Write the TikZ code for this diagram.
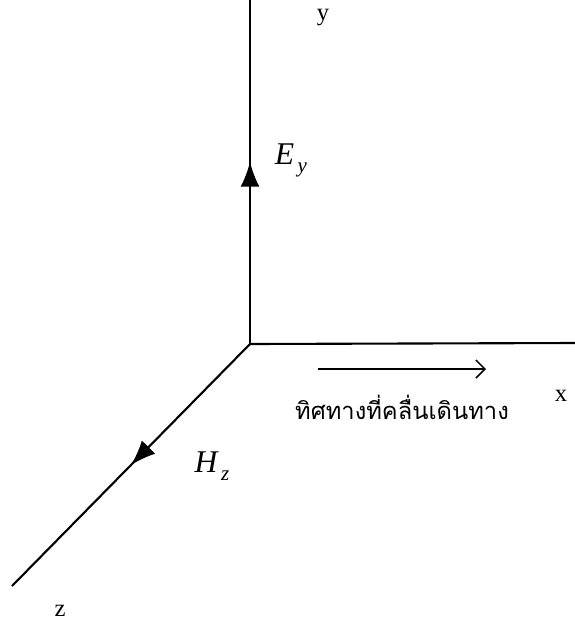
\documentclass[tikz,border=0pt]{standalone}
\usepackage{fontspec}
\setmainfont{Liberation Serif}
\newfontfamily\thaifont[Script=Thai]{Loma}
\usetikzlibrary{arrows.meta,decorations.markings}
\tikzset{
  axis/.style={line width=1.2pt},
  midarrow/.style={postaction={decorate},
    decoration={markings,mark=at position #1 with {\arrow{Latex[length=5mm,width=3.8mm]}}}},
  lbl/.style={font=\fontsize{14}{16}\selectfont, inner sep=0pt},
  field/.style={font=\fontsize{18}{20}\selectfont\itshape, inner sep=0pt}
}
\newcommand{\fieldsub}[2]{#1\kern2pt\raisebox{-0.55ex}{\fontsize{12}{14}\selectfont #2}}
\begin{document}
\begin{tikzpicture}[x=0.02cm,y=-0.02cm]
  \useasboundingbox (0,0) rectangle (575,627);
  \coordinate (O) at (250,344);
  \coordinate (ytop) at (250,0);
  \coordinate (xend) at (575,343);
  \coordinate (zend) at (12,586);
  % Axes
  \draw[axis, midarrow=0.53] (O) -- (ytop);
  \draw[axis] (O) -- (xend);
  \draw[axis, midarrow=0.50] (O) -- (zend);
  % Axis labels
  \node[lbl] (ylbl) at (323,17) {y};
  \node[lbl] (xlbl) at (561,396) {x};
  \node[lbl] (zlbl) at (60,611) {z};
  % Field labels
  \node[field] (Ey) at (291,160) {\fieldsub{E}{y}};
  \node[field] (Hz) at (212,466) {\fieldsub{H}{z}};
  % Direction of travel
  \coordinate (ws) at (318,369);
  \coordinate (we) at (486,369);
  \draw[line width=0.9pt, -{Straight Barb[length=1.8mm,width=3.6mm]}] (ws) -- (we);
  \node[font=\thaifont\fontsize{13.5}{16}\selectfont, inner sep=0pt] (dir) at (402,407) {ทิศทางที่คลื่นเดินทาง};
\end{tikzpicture}
\end{document}
